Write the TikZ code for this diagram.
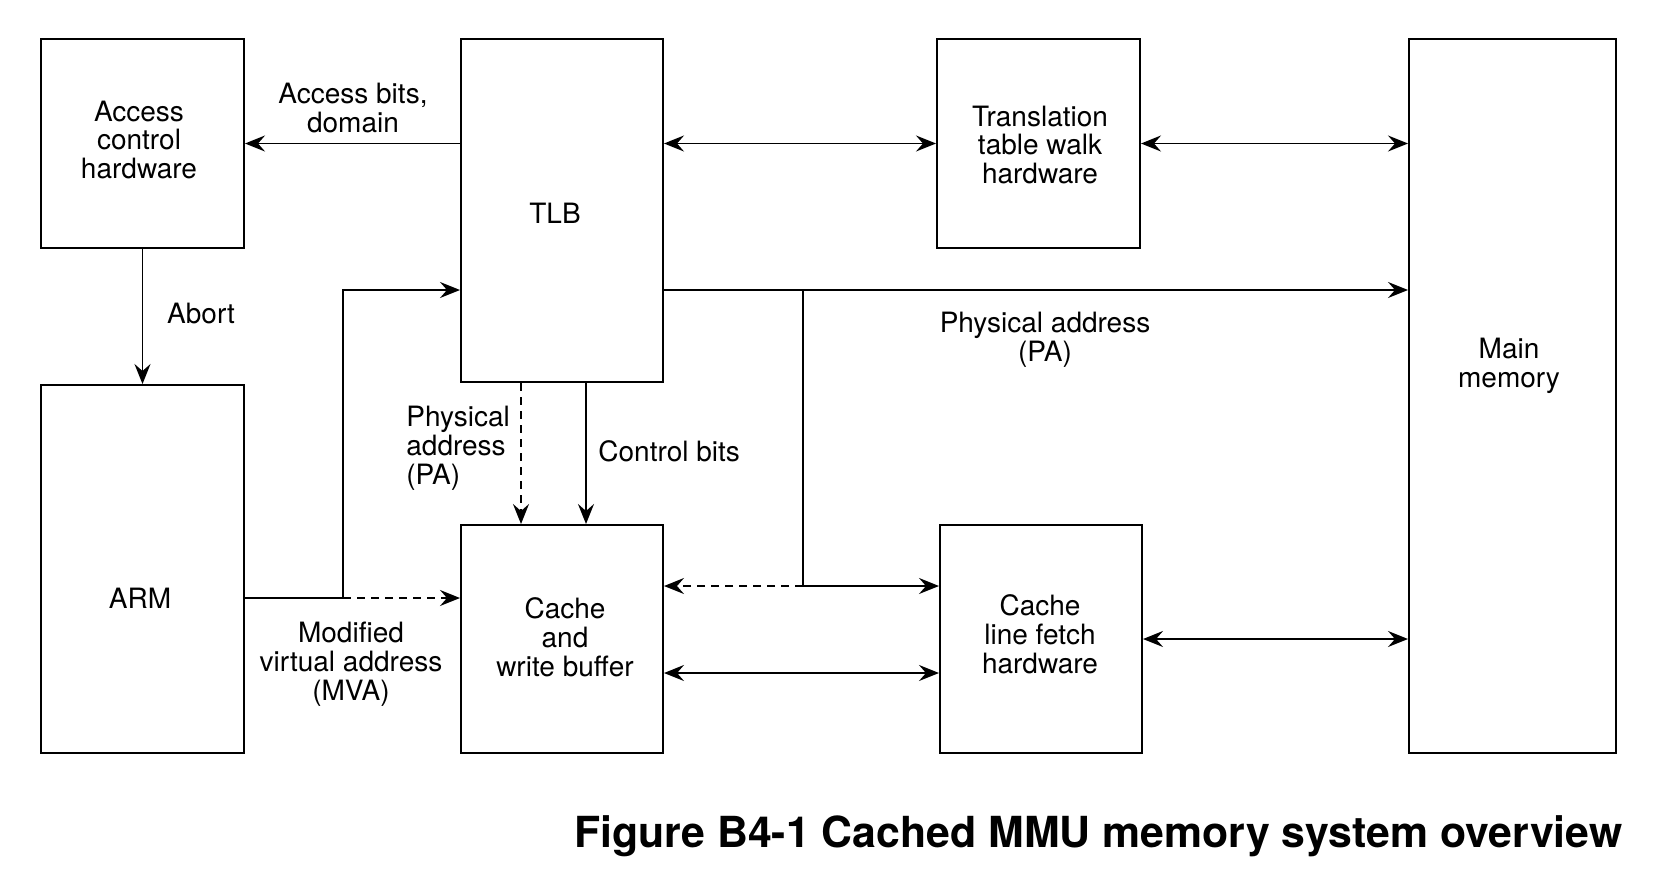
\documentclass[tikz,border=0pt]{standalone}
\usepackage{fontspec}
\setmainfont{TeX Gyre Heros}
\usetikzlibrary{arrows.meta,fit}

\tikzset{
  blk/.style={draw, line width=1pt, inner sep=0pt},
  txt/.style={inner sep=0pt, align=center, font=\fontsize{14}{14.4}\selectfont},
  tip/.tip={Stealth[length=10pt,width=8pt,inset=3.5pt]},
  arr/.style={-tip, line width=0.9pt},
  biarr/.style={tip-tip, line width=0.9pt},
  dsh/.style={dash pattern=on 4pt off 3pt},
}

\begin{document}
\begin{tikzpicture}[x=0.5pt,y=-0.5pt]
\useasboundingbox (0,0) rectangle (1664,878);

\node[blk, fit={(41,39) (244,248)}] (acc) {};
\node[blk, fit={(461,39) (663,382)}] (tlb) {};
\node[blk, fit={(937,39) (1140,248)}] (ttw) {};
\node[blk, fit={(1409,39) (1616,753)}] (mem) {};
\node[blk, fit={(41,385) (244,753)}] (arm) {};
\node[blk, fit={(461,525) (663,753)}] (cwb) {};
\node[blk, fit={(940,525) (1142,753)}] (clf) {};

\node[txt] (acctxt) at (139,140) {Access\\control\\hardware};
\node[txt] (tlbtxt) at (555,213) {TLB};
\node[txt] (ttwtxt) at (1040,145) {Translation\\table walk\\hardware};
\node[txt] (memtxt) at (1509,366) {Main\\memory};
\node[txt] (armtxt) at (140,598) {ARM};
\node[txt] (cwbtxt) at (565,637) {Cache\\and\\write buffer};
\node[txt] (clftxt) at (1040,634) {Cache\\line fetch\\hardware};

\coordinate (mvabr) at (343,598);
\coordinate (pa) at (803,290);
\coordinate (pabr) at (803,586);

% TLB side
\draw[arr] (tlb.west |- acc) -- (acc.east);
\draw[biarr] (tlb.east |- ttw) -- (ttw.west);
\draw[biarr] (ttw.east) -- (mem.west |- ttw);
\draw[arr] (acc.south) -- (arm.north);
\draw[arr] (arm.east |- mvabr) -- (mvabr) |- (tlb.west |- pa);
\draw[arr, dsh] (mvabr) -- (cwb.west |- mvabr);
\draw[arr] (tlb.east |- pa) -- (mem.west |- pa);
\draw[arr, dsh] ([xshift=-20.5pt]tlb.south) -- ([xshift=-20.5pt]cwb.north);
\draw[arr] ([xshift=12pt]tlb.south) -- ([xshift=12pt]cwb.north);

% physical address to the caches
\draw[line width=0.9pt] (pa) -- (pabr);
\draw[arr] (pabr) -- (clf.west |- pabr);
\draw[arr, dsh] (pabr) -- (cwb.east |- pabr);
\draw[biarr] ([yshift=-17pt]cwb.east) -- ([yshift=-17pt]clf.west);
\draw[biarr] (clf.east) -- (mem.west |- clf.east);

\node[txt] (accbits) at (353,108) {Access bits,\\domain};
\node[txt] (abort) at (201,313) {Abort};
\node[txt] (mva) at (351,664) {Modified\\virtual address\\(MVA)};
\node[txt, align=left, anchor=west] (tlbpa) at (406,448) {Physical\\address\\(PA)};
\node[txt, anchor=west] (ctrl) at (598,451) {Control bits};
\node[txt] (mempa) at (1045,340) {Physical address\\(PA)};

\node[inner sep=0pt, anchor=base east, font=\fontsize{21.4}{21.4}\selectfont\bfseries]
  (caption) at (1623,847) {Figure B4-1 Cached MMU memory system overview};
\end{tikzpicture}
\end{document}
